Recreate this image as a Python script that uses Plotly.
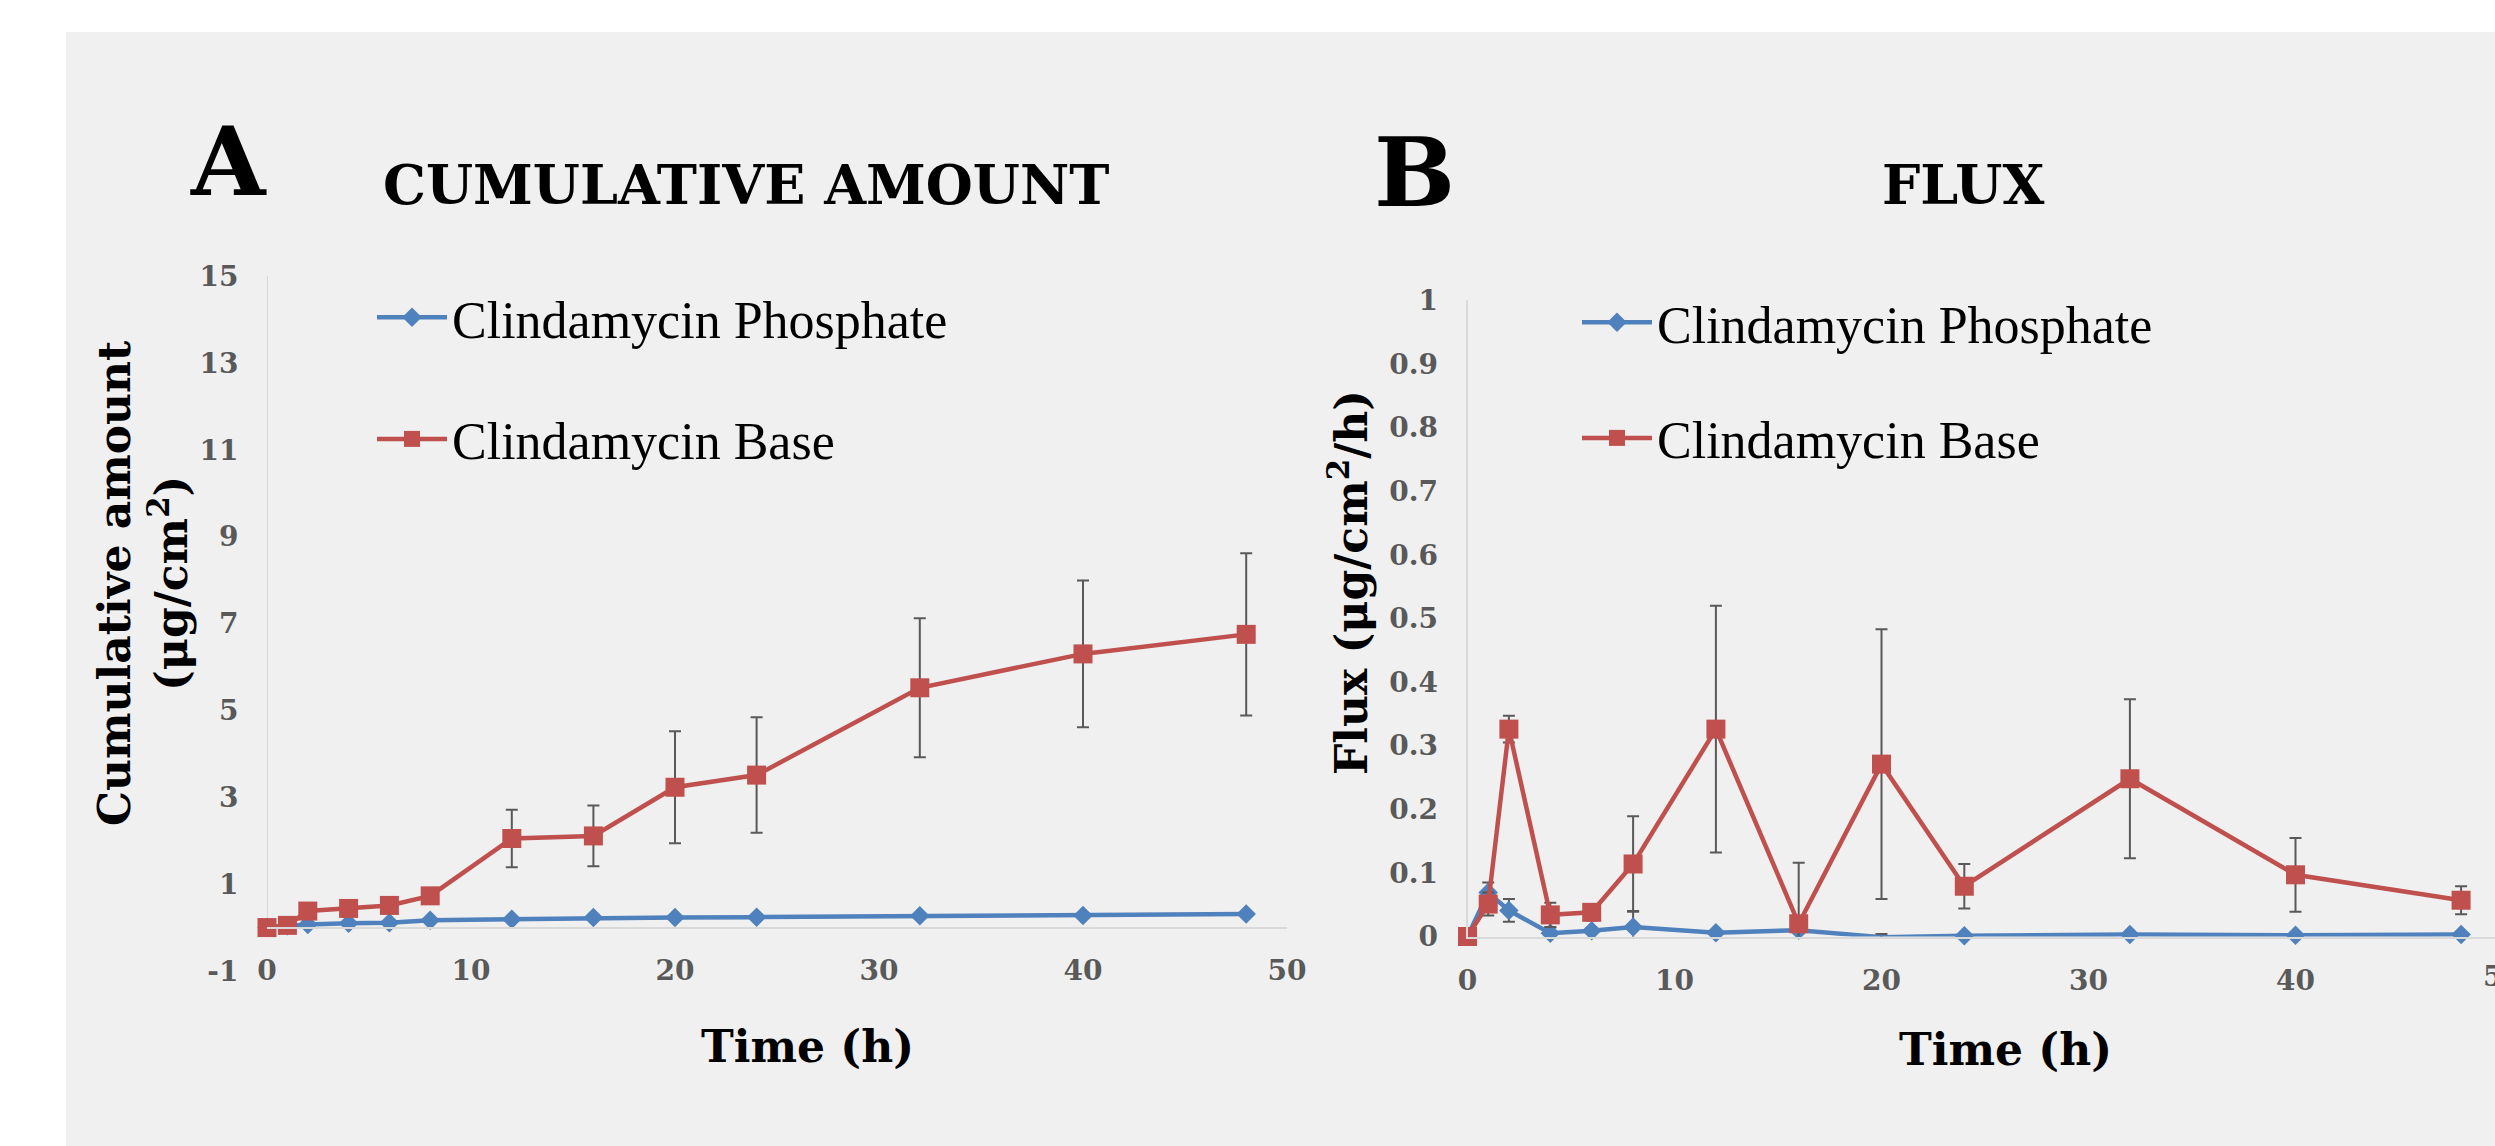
import plotly.graph_objects as go

W, H = 2495, 1146

# ---------------- data ----------------
time_h = [0, 1, 2, 4, 6, 8, 12, 16, 20, 24, 32, 40, 48]

cum_phosphate = [0, 0.04, 0.07, 0.10, 0.11, 0.17, 0.19, 0.23, 0.23, 0.24, 0.27, 0.28, 0.31]
cum_base = [0, 0.05, 0.38, 0.44, 0.51, 0.73, 2.05, 2.11, 3.23, 3.51, 5.52, 6.30, 6.75]
cum_base_err = [0, 0, 0, 0, 0, 0, 0.66, 0.70, 1.29, 1.33, 1.60, 1.69, 1.87]

flux_phosphate = [0, 0.069, 0.041, 0.005, 0.009, 0.015, 0.006, 0.010, -0.001, 0.001, 0.003, 0.002, 0.003]
flux_phosphate_err = [0, 0.016, 0.018, 0.009, 0.004, 0.025, 0.003, 0.005, 0.005, 0.002, 0.002, 0.002, 0.002]
flux_base = [0, 0.051, 0.326, 0.034, 0.038, 0.114, 0.326, 0.020, 0.271, 0.079, 0.248, 0.097, 0.057]
flux_base_err = [0, 0.018, 0.021, 0.019, 0.013, 0.075, 0.194, 0.096, 0.212, 0.035, 0.125, 0.058, 0.022]

cum_yticks = [-1, 1, 3, 5, 7, 9, 11, 13, 15]
cum_yticktext = ["-1", "1", "3", "5", "7", "9", "11", "13", "15"]
flux_yticks = [0, 0.1, 0.2, 0.3, 0.4, 0.5, 0.6, 0.7, 0.8, 0.9, 1]
flux_yticktext = ["0", "0.1", "0.2", "0.3", "0.4", "0.5", "0.6", "0.7", "0.8", "0.9", "1"]
time_ticks = [0, 10, 20, 30, 40, 50]

# ---------------- styles ----------------
BLUE = "#4f81bd"
RED = "#c0504d"
GREY_BG = "#f0f0f0"
AXIS_LINE = "#d9d9d9"
TICK_COL = "#595959"
ERR_COL = "#595959"
SERIF_B = "DejaVu Serif"
LEG_FONT = "Liberation Serif"


def px_x(p):
    return p / W


def px_y(p):
    return 1 - p / H


fig = go.Figure()

err_style = dict(type="data", visible=True, color=ERR_COL, thickness=2, width=6)
blue_line = dict(color=BLUE, width=4.5)
red_line = dict(color=RED, width=4.5)
blue_mk = dict(symbol="diamond", size=15, color=BLUE)
red_mk = dict(symbol="square", size=19, color=RED)

# Panel A
fig.add_trace(go.Scatter(
    x=time_h, y=cum_phosphate, name="Clindamycin Phosphate", mode="lines+markers",
    line=blue_line, marker=blue_mk,
    xaxis="x", yaxis="y", legend="legend", legendgroup="a1", cliponaxis=False))
fig.add_trace(go.Scatter(
    x=time_h, y=cum_base, name="Clindamycin Base", mode="lines+markers",
    line=red_line, marker=red_mk,
    error_y=dict(array=cum_base_err, **err_style),
    xaxis="x", yaxis="y", legend="legend", legendgroup="a2", cliponaxis=False))

# Panel B
fig.add_trace(go.Scatter(
    x=time_h, y=flux_phosphate, name="Clindamycin Phosphate", mode="lines+markers",
    line=blue_line, marker=blue_mk,
    error_y=dict(array=flux_phosphate_err, **err_style),
    xaxis="x2", yaxis="y2", legend="legend2", legendgroup="b1", cliponaxis=False))
fig.add_trace(go.Scatter(
    x=time_h, y=flux_base, name="Clindamycin Base", mode="lines+markers",
    line=red_line, marker=red_mk,
    error_y=dict(array=flux_base_err, **err_style),
    xaxis="x2", yaxis="y2", legend="legend2", legendgroup="b2", cliponaxis=False))

tickfont = dict(family=SERIF_B, size=28, color=TICK_COL, weight="bold")

# Panel A axes: y range -1..15, x axis line at y = 0
A_top, A_bot = 276, 971.0
A_zero = A_bot - (A_bot - A_top) / 16.0
fig.update_layout(
    xaxis=dict(domain=[px_x(267), px_x(1287)], range=[0, 50], tickvals=time_ticks,
               anchor="free", position=px_y(A_zero), showline=True, linecolor=AXIS_LINE,
               linewidth=2, showgrid=False, zeroline=False, ticks="outside", ticklen=18,
               tickcolor="rgba(0,0,0,0)", tickfont=tickfont, automargin=False),
    yaxis=dict(domain=[px_y(A_bot), px_y(A_top)], range=[-1, 15], tickvals=cum_yticks,
               ticktext=cum_yticktext,
               anchor="x", showline=False, showgrid=False, zeroline=False,
               ticks="outside", ticklen=22, tickcolor="rgba(0,0,0,0)",
               tickfont=tickfont, automargin=False),
)

# Panel B axes (the right edge of the figure cuts the axis just before 50)
B_top, B_bot = 300.4, 936.5
B_xmax = 50 * (W - 1467.5) / (2502.5 - 1467.5)
fig.update_layout(
    xaxis2=dict(domain=[px_x(1467.5), 1.0], range=[0, B_xmax],
                tickvals=time_ticks, anchor="y2", showline=True, linecolor=AXIS_LINE,
                linewidth=2, showgrid=False, zeroline=False, ticks="outside", ticklen=18,
                tickcolor="rgba(0,0,0,0)", tickfont=tickfont, automargin=False),
    yaxis2=dict(domain=[px_y(B_bot), px_y(B_top)], range=[0, 1], tickvals=flux_yticks,
                ticktext=flux_yticktext,
                anchor="x2", showline=True, linecolor=AXIS_LINE, linewidth=2,
                showgrid=False, zeroline=False, ticks="outside", ticklen=22,
                tickcolor="rgba(0,0,0,0)", tickfont=tickfont, automargin=False),
)

# y axis line of panel A (from 0 to 15 only)
fig.add_shape(type="line", xref="x", yref="y", x0=0, x1=0, y0=0, y1=15,
              line=dict(color=AXIS_LINE, width=2), layer="below")

# grey background panel
fig.add_shape(type="rect", xref="paper", yref="paper", x0=px_x(66), x1=1, y0=0, y1=px_y(32),
              fillcolor=GREY_BG, line=dict(width=0), layer="below")

leg_font = dict(family=LEG_FONT, size=52, color="black")
fig.update_layout(
    legend=dict(x=px_x(372), y=px_y(277), xanchor="left", yanchor="top",
                bgcolor="rgba(0,0,0,0)", font=leg_font, tracegroupgap=51,
                itemwidth=70, traceorder="grouped"),
    legend2=dict(x=px_x(1577), y=px_y(282), xanchor="left", yanchor="top",
                 bgcolor="rgba(0,0,0,0)", font=leg_font, tracegroupgap=45,
                 itemwidth=70, traceorder="grouped"),
)

title_font = dict(family=SERIF_B, size=54, color="black", weight="bold")
big_font = dict(family=SERIF_B, size=96, color="black", weight="bold")
axt_font = dict(family=SERIF_B, size=44, color="black", weight="bold")

ann = [
    dict(text="A", x=px_x(228), y=px_y(161), font=big_font),
    dict(text="B", x=px_x(1414), y=px_y(172), font=big_font),
    dict(text="CUMULATIVE AMOUNT", x=px_x(746), y=px_y(185), font=title_font),
    dict(text="FLUX", x=px_x(1963), y=px_y(185), font=title_font),
    dict(text="Time (h)", x=px_x(807), y=px_y(1046), font=axt_font),
    dict(text="Time (h)", x=px_x(2005), y=px_y(1049), font=axt_font),
    dict(text="Cumulative amount<br>(μg/cm<sup>2</sup>)", x=px_x(143), y=px_y(583),
         font=axt_font, textangle=-90),
    dict(text="Flux (μg/cm<sup>2</sup>/h)", x=px_x(1348), y=px_y(583),
         font=axt_font, textangle=-90),
    # tick label "50" of panel B, cut by the right edge as in the reference
    dict(text="50", x=2502.5 / W, y=px_y(976), font=tickfont),
]
for a in ann:
    a.update(xref="paper", yref="paper", showarrow=False, xanchor="center", yanchor="middle")

fig.update_layout(
    annotations=ann,
    width=W, height=H, autosize=False,
    margin=dict(l=0, r=0, t=0, b=0, pad=0),
    paper_bgcolor="white", plot_bgcolor="rgba(0,0,0,0)",
    template="none",
    showlegend=True,
)

fig.write_html("out.html", include_plotlyjs=True, full_html=True,
               config={"displayModeBar": False},
               post_script="document.body.style.margin='0';")
